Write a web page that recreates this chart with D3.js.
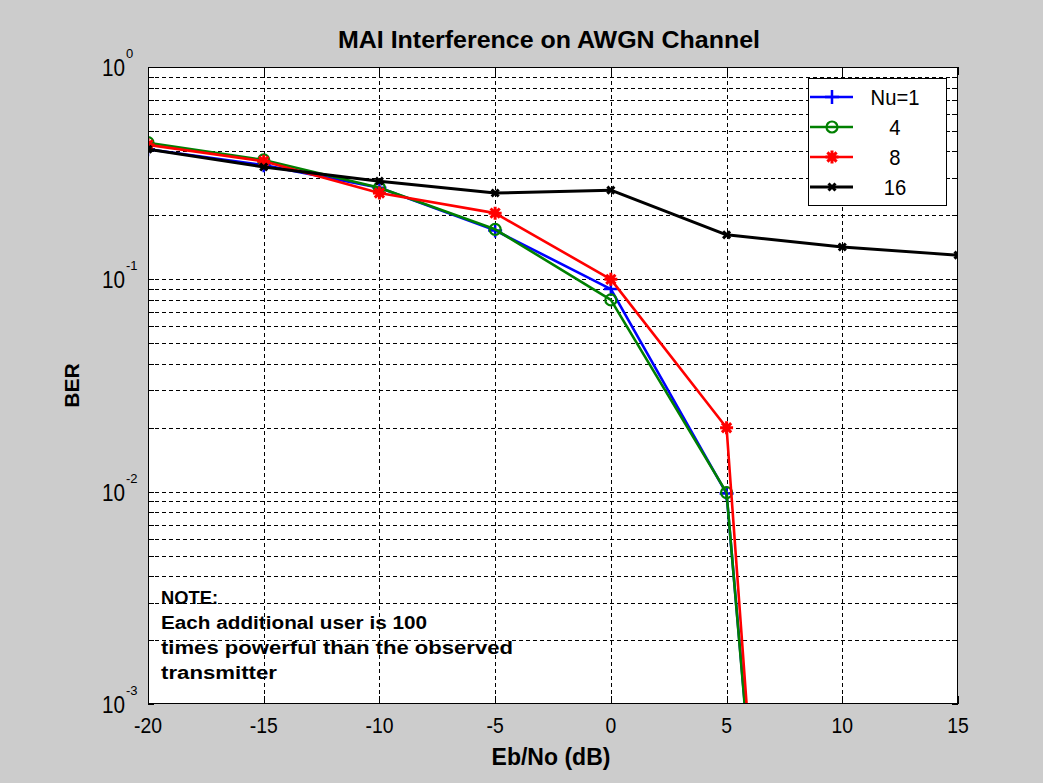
<!DOCTYPE html>
<html>
<head>
<meta charset="utf-8">
<script src="https://cdn.jsdelivr.net/npm/d3@7/dist/d3.min.js"></script>
<style>
  html, body { margin: 0; padding: 0; background: #cccccc; }
  svg { display: block; }
  text { font-family: "Liberation Sans", Arial, sans-serif; fill: #000; }
</style>
</head>
<body>
<svg id="chart" width="1043" height="783"></svg>
<script>
// Eb/No points (dB)
const ebno = [-20, -15, -10, -5, 0, 5, 10, 15];

// BER per number of users; the three low-user curves fall off the
// bottom of the axes after 5 dB
const berNu1  = [0.41, 0.345, 0.27, 0.17, 0.09, 0.0098, 5e-9];
const berNu4  = [0.44, 0.365, 0.27, 0.172, 0.08, 0.0099, 4e-9];
const berNu8  = [0.43, 0.36, 0.255, 0.205, 0.1, 0.02, 6e-10];
const berNu16 = [0.41, 0.338, 0.29, 0.255, 0.263, 0.162, 0.142, 0.13];

const seriesNames  = ["Nu=1", "4", "8", "16"];
const seriesColors = ["#0000ff", "#008000", "#ff0000", "#000000"];
const seriesMarks  = ["plus", "circle", "star", "x"];

const xTicks = [-20, -15, -10, -5, 0, 5, 10, 15];
const yDecades = [0, -1, -2, -3];

const titleText = "MAI Interference on AWGN Channel";
const xLabel = "Eb/No (dB)";
const yLabel = "BER";
const noteLines = ["NOTE:", "Each additional user is 100", "times powerful than the observed", "transmitter"];

const svg = d3.select("#chart");
const pL = 148, pR = 958, pT = 67, pB = 704;

const x = d3.scaleLinear().domain([-20, 15]).range([pL, pR]);
const y = d3.scaleLog().domain([1e-3, 1]).range([pB, pT]);

// plot background
svg.append("rect").attr("x", pL).attr("y", pT)
  .attr("width", pR - pL).attr("height", pB - pT)
  .attr("fill", "#fff");

svg.append("defs").append("clipPath").attr("id", "plotClip")
  .append("rect").attr("x", pL).attr("y", pT)
  .attr("width", pR - pL).attr("height", pB - pT);

// log minor values
const yMinor = [];
for (let k = -3; k < 0; k++) for (let m = 1; m <= 9; m++) yMinor.push(m * Math.pow(10, k));
yMinor.push(1);

// grid
const grid = svg.append("g").attr("stroke", "#000").attr("stroke-width", 1)
  .attr("stroke-dasharray", "4,3").attr("shape-rendering", "crispEdges");
yMinor.filter(v => v > 1.0001e-3 && v < 0.9999).forEach(v => {
  const yy = Math.round(y(v)) + 0.5;
  grid.append("line").attr("x1", pL).attr("x2", pR).attr("y1", yy).attr("y2", yy);
});
xTicks.filter(v => v > -20 && v < 15).forEach(v => {
  const xx = Math.round(x(v)) + 0.5;
  grid.append("line").attr("x1", xx).attr("x2", xx).attr("y1", pT).attr("y2", pB);
});

// ticks on all four sides
const ticks = svg.append("g").attr("stroke", "#000").attr("stroke-width", 1).attr("shape-rendering", "crispEdges");
yMinor.forEach(v => {
  const yy = Math.round(y(v)) + 0.5;
  ticks.append("line").attr("x1", pL).attr("x2", pL + 6).attr("y1", yy).attr("y2", yy);
  ticks.append("line").attr("x1", pR - 6).attr("x2", pR).attr("y1", yy).attr("y2", yy);
});
xTicks.forEach(v => {
  const xx = Math.round(x(v)) + 0.5;
  ticks.append("line").attr("x1", xx).attr("x2", xx).attr("y1", pB).attr("y2", pB - 8);
  ticks.append("line").attr("x1", xx).attr("x2", xx).attr("y1", pT).attr("y2", pT + 8);
});

// note text (wide bold face)
const note = svg.append("g");
const noteBase = [604, 629, 654, 679];
const noteWidth = [57, 266, 352, 116];
noteLines.forEach((t, i) => {
  note.append("text").attr("x", 161).attr("y", noteBase[i])
    .attr("font-size", 17.5).attr("font-weight", "bold")
    .attr("textLength", noteWidth[i]).attr("lengthAdjust", "spacingAndGlyphs")
    .text(t);
});

// series
const data = [berNu1, berNu4, berNu8, berNu16];
const plot = svg.append("g").attr("clip-path", "url(#plotClip)");
const line = d3.line().x(d => x(d[0])).y(d => y(d[1]));

function drawMarker(g, kind, color, cx, cy) {
  if (kind === "plus") {
    g.append("path").attr("d", `M${cx - 7},${cy}H${cx + 7}M${cx},${cy - 7}V${cy + 7}`)
      .attr("stroke", color).attr("stroke-width", 2.5).attr("fill", "none");
  } else if (kind === "circle") {
    g.append("circle").attr("cx", cx).attr("cy", cy).attr("r", 5.5)
      .attr("stroke", color).attr("stroke-width", 2.2).attr("fill", "none");
  } else if (kind === "star") {
    const r = 6.5;
    let d = "";
    for (let a = 0; a < 4; a++) {
      const ang = a * Math.PI / 4;
      d += `M${cx - r * Math.cos(ang)},${cy - r * Math.sin(ang)}L${cx + r * Math.cos(ang)},${cy + r * Math.sin(ang)}`;
    }
    g.append("path").attr("d", d).attr("stroke", color).attr("stroke-width", 3).attr("fill", "none");
  } else if (kind === "x") {
    const r = 3.5;
    g.append("path").attr("d", `M${cx - r},${cy - r}L${cx + r},${cy + r}M${cx - r},${cy + r}L${cx + r},${cy - r}`)
      .attr("stroke", color).attr("stroke-width", 3).attr("fill", "none");
  }
}

data.forEach((vals, si) => {
  const pts = vals.map((v, i) => [ebno[i], v]);
  plot.append("path").datum(pts).attr("d", line)
    .attr("fill", "none").attr("stroke", seriesColors[si])
    .attr("stroke-width", si === 3 ? 3 : 2.6).attr("stroke-linejoin", "round");
  const mg = plot.append("g");
  pts.forEach(p => {
    if (p[1] >= 1e-3) drawMarker(mg, seriesMarks[si], seriesColors[si], x(p[0]), y(p[1]));
  });
});

// axes box
svg.append("rect").attr("x", pL + 0.5).attr("y", pT + 0.5)
  .attr("width", pR - pL - 1).attr("height", pB - pT - 1)
  .attr("fill", "none").attr("stroke", "#000").attr("stroke-width", 1.2)
  .attr("shape-rendering", "crispEdges");

// x tick labels (slightly condensed face)
xTicks.forEach(v => {
  svg.append("text").attr("transform", `translate(${x(v)},733) scale(0.88,1)`)
    .attr("text-anchor", "middle").attr("font-size", 22).text(v);
});

// y tick labels: 10 with superscript exponent
yDecades.forEach(k => {
  const yy = y(Math.pow(10, k));
  svg.append("text").attr("transform", `translate(125,${yy + 9}) scale(0.9,1)`)
    .attr("text-anchor", "end").attr("font-size", 23).text("10");
  svg.append("text").attr("x", 126).attr("y", yy - 9).attr("text-anchor", "start")
    .attr("font-size", 13).text(k);
});

// title and axis labels
svg.append("text").attr("x", 338).attr("y", 48)
  .attr("font-size", 24).attr("font-weight", "bold")
  .attr("textLength", 422).attr("lengthAdjust", "spacingAndGlyphs").text(titleText);
svg.append("text").attr("x", (pL + pR) / 2 - 2).attr("y", 765).attr("text-anchor", "middle")
  .attr("font-size", 23).attr("font-weight", "bold").text(xLabel);
svg.append("text").attr("transform", `translate(79,${(pT + pB) / 2}) rotate(-90)`)
  .attr("text-anchor", "middle")
  .attr("font-size", 21).attr("font-weight", "bold").text(yLabel);

// legend
const lg = svg.append("g");
lg.append("rect").attr("x", 808.5).attr("y", 78.5).attr("width", 138).attr("height", 127)
  .attr("fill", "#fff").attr("stroke", "#000").attr("stroke-width", 1).attr("shape-rendering", "crispEdges");
seriesNames.forEach((name, i) => {
  const ly = 97 + i * 30;
  lg.append("line").attr("x1", 810).attr("x2", 853).attr("y1", ly).attr("y2", ly)
    .attr("stroke", seriesColors[i]).attr("stroke-width", i === 3 ? 3 : 2.6);
  drawMarker(lg, seriesMarks[i], seriesColors[i], 832, ly);
  lg.append("text").attr("transform", `translate(895,${ly + 8}) scale(0.92,1)`)
    .attr("text-anchor", "middle").attr("font-size", 22).text(name);
});
</script>
</body>
</html>
